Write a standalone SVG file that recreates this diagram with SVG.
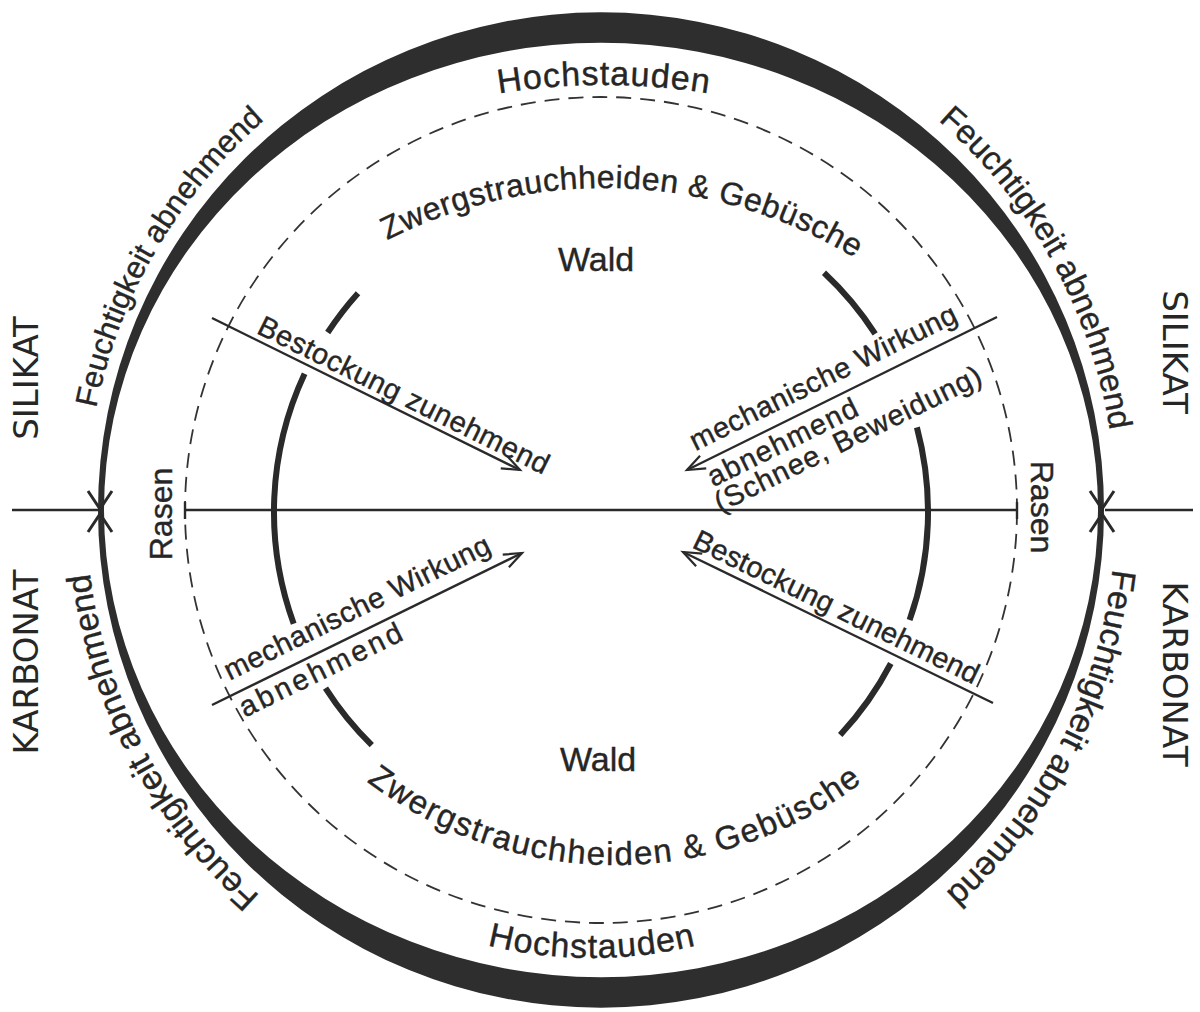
<svg xmlns="http://www.w3.org/2000/svg" xmlns:xlink="http://www.w3.org/1999/xlink" width="1200" height="1012" viewBox="0 0 1200 1012">
<style>
.ring{fill:#2e2e2e;fill-rule:evenodd}
.inner{fill:none;stroke:#2a2a2a;stroke-width:6;stroke-linecap:butt}
.dash{fill:none;stroke:#333;stroke-width:1.8;stroke-dasharray:15 9}
.ln{fill:none;stroke:#2a2a2a;stroke-width:2.4}
.chev{fill:none;stroke:#2a2a2a;stroke-width:3}
.hand{font-family:"Liberation Sans",Arial,sans-serif;fill:#262626;stroke:#262626;stroke-width:0.4}
.caps{font-family:"DejaVu Sans","Liberation Sans",sans-serif;font-size:34px;fill:#262626}
</style>
<defs>
<marker id="ah" markerUnits="userSpaceOnUse" markerWidth="22" markerHeight="18" refX="19" refY="8" orient="auto" overflow="visible">
<path d="M1,1 L19,8 L1,15" fill="none" stroke="#2a2a2a" stroke-width="2.2"/>
</marker>
<path id="pTL" d="M 86 507.3 A 515 515 0 0 1 345.8 62.7"/>
<path id="pTR" d="M 866.2 68.5 A 515 515 0 0 1 1115.9 519"/>
<path id="pBL" d="M 326.6 945.8 A 515 515 0 0 1 86.4 490.2"/>
<path id="pBR" d="M 1115.4 485.7 A 515 515 0 0 1 879.2 943.4"/>
<path id="pHT" d="M 381.7 124.2 A 650 650 0 0 1 826.3 124.2"/>
<path id="pHB" d="M 280.9 829.1 A 440 440 0 0 0 903.1 829.1"/>
<path id="pZT" d="M 237.3 359.5 A 480 480 0 0 1 972.7 359.5"/>
<path id="pZB" d="M 259.9 660 A 410 410 0 0 0 970.1 660"/>
</defs>
<rect width="1200" height="1012" fill="#ffffff"/>

<g id="outer-ring">
<path class="ring" d="M 98 510 A 503 497.5 0 1 1 1104 510 A 503 497.5 0 1 1 98 510 Z M 104 510 A 497 467 0 1 0 1098 510 A 497 467 0 1 0 104 510 Z"/>
<polyline class="chev" points="88,491 100,509 112,491"/>
<polyline class="chev" points="88,532 100,514 112,532"/>
<polyline class="chev" points="1090,491 1102,509 1114,491"/>
<polyline class="chev" points="1090,532 1102,514 1114,532"/>
</g>

<g id="dashed-circle">
<ellipse class="dash" cx="601" cy="510" rx="416" ry="413"/>
</g>

<g id="inner-circle">
<path class="inner" d="M 327.7 332.5 A 327 327 0 0 1 358 293.2"/>
<path class="inner" d="M 293.7 623.8 A 327 327 0 0 1 304.6 373.8"/>
<path class="inner" d="M 371.8 745.2 A 327 327 0 0 1 325.5 688.2"/>
<path class="inner" d="M 824 272.8 A 327 327 0 0 1 875.2 333.9"/>
<path class="inner" d="M 916.9 427.4 A 327 327 0 0 1 909.6 620.1"/>
<path class="inner" d="M 890.8 663.5 A 327 327 0 0 1 840.2 735"/>
</g>

<g id="connectors">
<line class="ln" x1="12" y1="510" x2="98" y2="510"/>
<line class="ln" x1="185" y1="510" x2="1017" y2="510"/>
<line class="ln" x1="1105" y1="510" x2="1193" y2="510"/>
<line class="ln" x1="185" y1="502" x2="185" y2="519"/>
<line class="ln" x1="1017" y1="502" x2="1017" y2="519"/>
<line class="ln" x1="212" y1="318" x2="520" y2="470" marker-end="url(#ah)"/>
<line class="ln" x1="997" y1="317" x2="687" y2="470" marker-end="url(#ah)"/>
<line class="ln" x1="212" y1="705" x2="522" y2="553" marker-end="url(#ah)"/>
<line class="ln" x1="993" y1="703" x2="683" y2="552" marker-end="url(#ah)"/>
</g>

<g id="side-labels">
<text class="caps" text-anchor="middle" transform="translate(38,378) rotate(-90)">SILIKAT</text>
<text class="caps" text-anchor="middle" transform="translate(38,662) rotate(-90)">KARBONAT</text>
<text class="caps" text-anchor="middle" transform="translate(1163,352) rotate(90)">SILIKAT</text>
<text class="caps" text-anchor="middle" transform="translate(1163,674) rotate(90)">KARBONAT</text>
</g>

<g id="moisture-labels">
<text class="hand" font-size="31"><textPath xlink:href="#pTL" href="#pTL" startOffset="50%" text-anchor="middle">Feuchtigkeit abnehmend</textPath></text>
<text class="hand" font-size="33"><textPath xlink:href="#pTR" href="#pTR" startOffset="50%" text-anchor="middle">Feuchtigkeit abnehmend</textPath></text>
<text class="hand" font-size="34"><textPath xlink:href="#pBL" href="#pBL" startOffset="50%" text-anchor="middle">Feuchtigkeit abnehmend</textPath></text>
<text class="hand" font-size="34"><textPath xlink:href="#pBR" href="#pBR" startOffset="50%" text-anchor="middle">Feuchtigkeit abnehmend</textPath></text>
</g>

<g id="zone-hochstauden">
<text class="hand" font-size="34" letter-spacing="1"><textPath xlink:href="#pHT" href="#pHT" startOffset="50%" text-anchor="middle">Hochstauden</textPath></text>
<text class="hand" font-size="34" letter-spacing="1"><textPath xlink:href="#pHB" href="#pHB" startOffset="50%" text-anchor="middle">Hochstauden</textPath></text>
</g>

<g id="zone-zwergstrauch">
<text class="hand" font-size="32" letter-spacing="0.5"><textPath xlink:href="#pZT" href="#pZT" startOffset="52.2%" text-anchor="middle">Zwergstrauchheiden &amp; Gebüsche</textPath></text>
<text class="hand" font-size="33" letter-spacing="1.5"><textPath xlink:href="#pZB" href="#pZB" startOffset="50%" text-anchor="middle">Zwergstrauchheiden &amp; Gebüsche</textPath></text>
</g>

<g id="zone-wald">
<text class="hand" font-size="34" x="596" y="271" text-anchor="middle">Wald</text>
<text class="hand" font-size="34" x="598" y="771" text-anchor="middle">Wald</text>
</g>

<g id="zone-rasen">
<text class="hand" font-size="32" text-anchor="middle" transform="translate(172,514) rotate(-90)">Rasen</text>
<text class="hand" font-size="32" text-anchor="middle" transform="translate(1031,507) rotate(90)">Rasen</text>
</g>

<g id="arrow-labels">
<g transform="translate(212,318) rotate(26.27)">
<text class="hand" font-size="29" x="206" y="-6" text-anchor="middle" textLength="321">Bestockung zunehmend</text>
</g>
<g transform="translate(687,470) rotate(-26.27)">
<text class="hand" font-size="29" x="163" y="-13" text-anchor="middle" textLength="294">mechanische Wirkung</text>
<text class="hand" font-size="29" x="98" y="27" text-anchor="middle" textLength="164">abnehmend</text>
<text class="hand" font-size="29" x="158" y="53" text-anchor="middle" textLength="294">(Schnee, Beweidung)</text>
</g>
<g transform="translate(212,705) rotate(-26.12)">
<text class="hand" font-size="29" x="173" y="-14" text-anchor="middle" textLength="293">mechanische Wirkung</text>
<text class="hand" font-size="29" x="113" y="26" text-anchor="middle" textLength="178">abnehmend</text>
</g>
<g transform="translate(683,552) rotate(25.97)">
<text class="hand" font-size="29" x="162" y="-8" text-anchor="middle" textLength="314">Bestockung zunehmend</text>
</g>
</g>
</svg>
